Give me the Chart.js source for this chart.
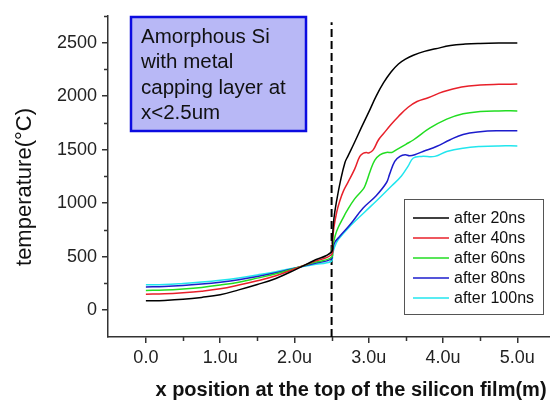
<!DOCTYPE html>
<html>
<head>
<meta charset="utf-8">
<script src="https://cdn.jsdelivr.net/npm/chart.js@4.4.1/dist/chart.umd.min.js"></script>
<style>
html,body{margin:0;padding:0;background:#fff;overflow:hidden;}
canvas{display:block;}
</style>
</head>
<body>
<canvas id="c" width="550" height="401"></canvas>
<script>
// ---- data ----
const seriesLabels = ["after 20ns","after 40ns","after 60ns","after 80ns","after 100ns"];
const leftX = [0,0.25,0.5,0.75,1.0,1.25,1.5,1.75,2.0,2.25,2.5];

const blackX = leftX.concat([2.51,2.53,2.57,2.62,2.68,2.72,2.8,2.9,3.0,3.1,3.2,3.3,3.4,3.5,3.6,3.75,3.9,4.1,4.3,4.5,4.75,5.0]);
const blackY = [88,92,102,120,145,190,240,297,375,460,545,
                650,850,1030,1210,1380,1440,1555,1705,1850,2000,2125,2225,2300,2348,2382,2418,2442,2472,2486,2492,2495,2495];

const redX = leftX.concat([2.51,2.53,2.57,2.61,2.66,2.72,2.81,2.88,2.93,2.97,3.0,3.06,3.13,3.2,3.3,3.4,3.53,3.65,3.8,4.0,4.25,4.5,4.75,5.0]);
const redY = [150,153,163,178,200,235,275,322,385,452,520,
              620,770,920,1020,1115,1195,1318,1437,1468,1474,1468,1498,1590,1650,1735,1810,1896,1950,1985,2040,2085,2104,2110,2112];

const greenX = leftX.concat([2.51,2.55,2.59,2.65,2.7,2.81,2.925,2.96,3.02,3.08,3.15,3.24,3.31,3.37,3.5,3.6,3.82,4.05,4.27,4.5,4.75,5.0]);
const greenY = [185,188,198,213,235,262,300,340,390,443,495,
                580,700,775,855,920,1040,1131,1180,1300,1400,1452,1474,1474,1498,1550,1590,1700,1785,1835,1856,1862,1862];

const blueX = leftX.concat([2.51,2.54,2.61,2.75,2.925,3.1,3.24,3.28,3.35,3.42,3.49,3.55,3.62,3.73,3.91,4.09,4.27,4.5,4.75,5.0]);
const blueY = [218,221,230,244,262,285,315,350,392,435,480,
               540,630,690,800,955,1070,1193,1269,1391,1437,1452,1443,1452,1483,1529,1590,1642,1667,1676,1676];

const cyanX = leftX.concat([2.51,2.54,2.59,2.77,2.95,3.13,3.31,3.44,3.53,3.6,3.71,3.89,4.05,4.27,4.5,4.75,5.0]);
const cyanY = [238,240,250,263,280,302,330,360,395,425,458,
               510,590,660,800,920,1039,1162,1254,1346,1422,1437,1437,1483,1514,1529,1535,1535];

const boundaryX = [2.5, 2.5];
const boundaryY = [-250, 2690];

const xTickValues = [0,1,2,3,4,5];
const xTickLabels = ["0.0","1.0u","2.0u","3.0u","4.0u","5.0u"];
const yTickValues = [0,500,1000,1500,2000,2500];
const yMinorTicks = [250,750,1250,1750,2250,2750];
const xMinorTicks = [0.5,1.5,2.5,3.5,4.5];

const boxLines = ["Amorphous Si","with metal","capping layer at","x<2.5um"];
const xTitle = "x position at the top of the silicon film(m)";
const yTitle = "temperature(\u00B0C)";

const colors = ["#000000","#e8202a","#22dd22","#1c1ccc","#22e6ee"];

// ---- build ----
const pts = (xs, ys) => xs.map((x, i) => ({x: x, y: ys[i]}));
const seriesXY = [[blackX,blackY],[redX,redY],[greenX,greenY],[blueX,blueY],[cyanX,cyanY]];

const datasets = seriesXY.map((s, i) => ({
  label: seriesLabels[i],
  data: pts(s[0], s[1]),
  borderColor: colors[i],
  borderWidth: 1.5,
  pointRadius: 0,
  fill: false,
  tension: 0.4
}));
datasets.push({
  label: "",
  data: pts(boundaryX, boundaryY),
  borderColor: "#000",
  borderWidth: 2,
  borderDash: [8, 4],
  pointRadius: 0,
  tension: 0,
  fill: false,
  isBoundary: true
});

const FONT = "'Liberation Sans', Arial, sans-serif";

const decor = {
  id: 'decor',
  afterDraw(chart) {
    const ctx = chart.ctx;
    const xs = chart.scales.x, ys = chart.scales.y;
    const ca = chart.chartArea;
    ctx.save();
    // minor ticks
    ctx.strokeStyle = '#333';
    ctx.lineWidth = 1.5;
    ctx.beginPath();
    yMinorTicks.forEach(v => {
      const py = Math.round(ys.getPixelForValue(v)) + 0.5;
      ctx.moveTo(ca.left - 4, py); ctx.lineTo(ca.left, py);
    });
    xMinorTicks.forEach(v => {
      const px = Math.round(xs.getPixelForValue(v)) + 0.5;
      ctx.moveTo(px, ca.bottom); ctx.lineTo(px, ca.bottom + 4);
    });
    ctx.stroke();

    // text box
    ctx.fillStyle = '#b8b8f6';
    ctx.fillRect(131, 17, 175, 114);
    ctx.strokeStyle = '#0c0ce0';
    ctx.lineWidth = 2.5;
    ctx.strokeRect(131, 17, 175, 114);
    ctx.fillStyle = '#111';
    ctx.font = "20.5px " + FONT;
    ctx.textBaseline = 'alphabetic';
    ctx.textAlign = 'left';
    boxLines.forEach((t, i) => ctx.fillText(t, 141, 43 + i * 25.4));

    // legend
    ctx.fillStyle = '#fff';
    ctx.fillRect(404.5, 199.5, 139, 115);
    ctx.strokeStyle = '#555';
    ctx.lineWidth = 1;
    ctx.strokeRect(404.5, 199.5, 139, 115);
    ctx.font = "16px " + FONT;
    ctx.textBaseline = 'middle';
    chart.data.datasets.forEach((d, i) => {
      if (d.isBoundary) return;
      const y = 218 + i * 20;
      ctx.strokeStyle = d.borderColor;
      ctx.lineWidth = 1.5;
      ctx.beginPath();
      ctx.moveTo(413, y); ctx.lineTo(449, y);
      ctx.stroke();
      ctx.fillStyle = '#111';
      ctx.fillText(d.label, 454, y + 1);
    });

    // axis titles
    ctx.fillStyle = '#111';
    ctx.font = "bold 20px " + FONT;
    ctx.textAlign = 'center';
    ctx.textBaseline = 'alphabetic';
    ctx.fillText(xTitle, 351, 396);

    ctx.save();
    ctx.translate(31, 187);
    ctx.rotate(-Math.PI / 2);
    ctx.font = "22px " + FONT;
    ctx.textAlign = 'center';
    ctx.fillText(yTitle, 0, 0);
    ctx.restore();

    ctx.restore();
  }
};

new Chart(document.getElementById('c'), {
  type: 'line',
  data: { datasets: datasets },
  options: {
    responsive: false,
    animation: false,
    devicePixelRatio: 1,
    layout: { padding: { top: 11, right: 0, left: 0, bottom: 0 } },
    plugins: { legend: { display: false }, tooltip: { enabled: false }, title: { display: false } },
    scales: {
      x: {
        type: 'linear',
        min: -0.51, max: 5.44,
        afterBuildTicks: s => { s.ticks = xTickValues.map(v => ({value: v})); },
        ticks: {
          callback: (v) => { const k = xTickValues.indexOf(v); return k >= 0 ? xTickLabels[k] : ''; },
          font: { family: FONT, size: 18 }, color: '#222', padding: 4, maxRotation: 0, autoSkip: false
        },
        grid: { drawOnChartArea: false, drawTicks: true, tickLength: 6, color: '#333', lineWidth: 1.5 },
        border: { display: true, color: '#333', width: 1.5 },
        afterFit: s => { s.height = 64; }
      },
      y: {
        type: 'linear',
        min: -250, max: 2750,
        afterBuildTicks: s => { s.ticks = yTickValues.map(v => ({value: v})); },
        ticks: {
          callback: (v) => String(v),
          font: { family: FONT, size: 18 }, color: '#222', padding: 5, autoSkip: false
        },
        grid: { drawOnChartArea: false, drawTicks: true, tickLength: 6, color: '#333', lineWidth: 1.5 },
        border: { display: true, color: '#333', width: 1.5 },
        afterFit: s => { s.width = 108; }
      }
    }
  },
  plugins: [decor]
});
</script>
</body>
</html>
